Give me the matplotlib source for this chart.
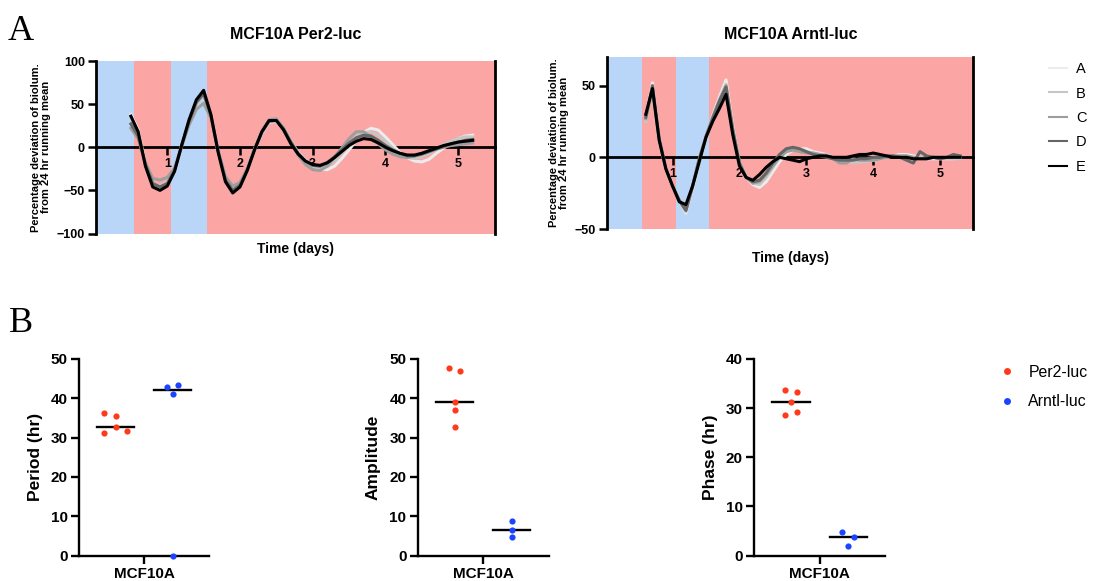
import numpy as np
import matplotlib
matplotlib.use("Agg")
import matplotlib.pyplot as plt
from matplotlib.lines import Line2D

plt.rcParams['font.family'] = ['Liberation Sans', 'DejaVu Sans']

# ---------------- data: panel A (bioluminescence traces) ----------------
per2_days = [0.5, 0.6, 0.7, 0.8, 0.9, 1.0, 1.1, 1.2, 1.3, 1.4, 1.5, 1.6,
             1.7, 1.8, 1.9, 2.0, 2.1, 2.2, 2.3, 2.4, 2.5, 2.6, 2.7, 2.8,
             2.9, 3.0, 3.1, 3.2, 3.3, 3.4, 3.5, 3.6, 3.7, 3.8, 3.9, 4.0,
             4.1, 4.2, 4.3, 4.4, 4.5, 4.6, 4.7, 4.8, 4.9, 5.0, 5.1, 5.2]
per2_A = [38, 20, -20, -44, -48, -43, -27, 2, 30, 52, 63, 37,
          -6, -38, -50, -44, -26, -3, 16, 29, 30, 21, 7, -6,
          -15, -21, -25, -26, -22, -13, -3, 8, 17, 22, 20, 12,
          3, -6, -12, -16, -17, -14, -7, -1, 5, 10, 13, 14]
per2_B = [35, 17, -20, -42, -45, -40, -26, 3, 30, 50, 60, 36,
          -5, -36, -47, -42, -25, -2, 18, 31, 32, 22, 7, -7,
          -17, -22, -24, -22, -16, -7, 3, 12, 17, 18, 14, 7,
          -1, -8, -12, -13, -11, -7, -2, 3, 7, 10, 12, 12]
per2_C = [22, 10, -18, -36, -38, -35, -24, 2, 26, 44, 51, 34,
          -4, -34, -45, -41, -25, -2, 18, 32, 33, 22, 6, -9,
          -20, -26, -27, -22, -12, -1, 10, 18, 18, 12, 4, -3,
          -8, -11, -12, -10, -7, -4, -2, 0, 2, 3, 4, 5]
per2_D = [27, 13, -20, -42, -46, -42, -27, 2, 30, 52, 62, 37,
          -5, -38, -50, -44, -26, -3, 17, 30, 31, 21, 6, -7,
          -16, -21, -22, -18, -11, -3, 5, 11, 14, 13, 8, 2,
          -3, -7, -10, -10, -8, -5, -2, 1, 4, 6, 8, 9]
per2_E = [36, 18, -22, -46, -50, -45, -28, 3, 32, 55, 66, 38,
          -6, -40, -53, -46, -27, -3, 18, 31, 31, 20, 4, -8,
          -16, -20, -21, -18, -12, -5, 2, 7, 10, 9, 5, 0,
          -4, -7, -9, -9, -7, -4, -1, 2, 4, 6, 7, 8]

arntl_days = [0.6, 0.7, 0.8, 0.9, 1.0, 1.1, 1.2, 1.3, 1.4, 1.5, 1.6, 1.7,
              1.8, 1.9, 2.0, 2.1, 2.2, 2.3, 2.4, 2.5, 2.6, 2.7, 2.8, 2.9,
              3.0, 3.1, 3.2, 3.3, 3.4, 3.5, 3.6, 3.7, 3.8, 3.9, 4.0, 4.1,
              4.2, 4.3, 4.4, 4.5, 4.6, 4.7, 4.8, 4.9, 5.0, 5.1, 5.2, 5.3]
arntl_A = [28, 52, 12, -8, -20, -30, -39, -22, -2, 14, 29, 42,
           54, 22, -4, -14, -19, -21, -17, -10, -3, 2, 5, 6,
           6, 4, 3, 2, 0, -2, -3, -3, -3, -2, -2, -1,
           0, 1, 2, 2, 1, 0, -1, -1, -1, -1, -1, 0]
arntl_B = [25, 50, 13, -8, -20, -30, -38, -21, -2, 14, 28, 40,
           51, 21, -3, -13, -18, -19, -14, -7, 0, 4, 6, 5,
           4, 3, 2, 2, 0, -2, -3, -4, -3, -3, -2, -1,
           0, 1, 1, 1, 0, 0, -1, 0, 0, -1, -1, -1]
arntl_C = [27, 48, 12, -8, -20, -30, -37, -20, -1, 15, 28, 40,
           50, 20, -4, -14, -18, -17, -12, -6, 0, 4, 5, 4,
           3, 3, 2, 1, -1, -4, -4, -1, -2, -2, -2, -1,
           0, 1, 1, 1, 0, -1, -1, 0, -1, 0, 1, 1]
arntl_D = [28, 50, 13, -8, -20, -30, -37, -20, -1, 14, 27, 39,
           49, 19, -4, -14, -17, -16, -11, -4, 2, 6, 7, 6,
           4, 2, 1, 0, -1, -2, -2, -2, -1, -1, 0, 0,
           1, 1, 0, -2, -4, 4, 1, 0, -1, 0, 2, 1]
arntl_E = [30, 48, 12, -8, -20, -31, -33, -20, -3, 14, 25, 34,
           44, 16, -6, -14, -16, -12, -7, -3, 0, -1, -2, -3,
           -1, 0, 1, 1, 0, 0, 0, 1, 2, 2, 3, 2,
           1, 0, 0, 0, -1, -1, -1, 0, 0, 0, 0, 0]

series_names = ['A', 'B', 'C', 'D', 'E']
per2_traces = [per2_A, per2_B, per2_C, per2_D, per2_E]
arntl_traces = [arntl_A, arntl_B, arntl_C, arntl_D, arntl_E]

# light schedule (days): blue = one condition, pink = the other
light_starts = [0.0, 0.54, 1.05, 1.54]
light_ends = [0.54, 1.05, 1.54, 5.5]
light_kind = ['blue', 'pink', 'blue', 'pink']

# ---------------- data: panel B (rhythm parameters) ----------------
per2_period = [36.3, 35.5, 32.6, 31.2, 31.7]
arntl_period = [42.95, 43.4, 41.2, 0.0]
per2_amp = [47.6, 47.0, 39.0, 36.9, 32.6]
arntl_amp = [8.7, 6.6, 4.8]
per2_phase = [33.7, 33.3, 31.2, 28.5, 29.2]
arntl_phase = [4.7, 3.7, 2.0]

# ---------------- styles ----------------
trace_colors = ['#ececec', '#c6c6c6', '#9e9e9e', '#666666', '#000000']
bg_colors = {'blue': '#b9d5f8', 'pink': '#fca5a5'}
red = '#ff3a1c'
blue = '#1c44ff'

W, H = 1097, 581
fig = plt.figure(figsize=(W / 100, H / 100), dpi=100)


def px_axes(left, top, right, bottom):
    return fig.add_axes([left / W, 1 - bottom / H, (right - left) / W, (bottom - top) / H])


def trace_panel(ax, days, traces, title, ylim, yticks, title_pad, xlab_y):
    for s, e, k in zip(light_starts, light_ends, light_kind):
        ax.axvspan(s, e, color=bg_colors[k], lw=0, zorder=0)
    for vals, c, name in zip(traces, trace_colors, series_names):
        ax.plot(days, vals, color=c, lw=2.2, zorder=3, label=name)
    ax.set_xlim(0.02, 5.5)
    ax.set_ylim(*ylim)
    ax.set_yticks(yticks)
    ax.set_xticks([1, 2, 3, 4, 5])
    ax.spines['bottom'].set_position(('data', 0))
    ax.spines['top'].set_visible(False)
    for sp in ['left', 'right', 'bottom']:
        ax.spines[sp].set_linewidth(2)
        ax.spines[sp].set_zorder(2.6)
    ax.tick_params(width=1.8, length=6, labelsize=9, pad=2)
    for lab in ax.get_xticklabels() + ax.get_yticklabels():
        lab.set_fontweight('bold')
    ax.set_ylabel("Percentage deviation of biolum.\nfrom 24 hr running mean",
                  fontsize=8, fontweight='bold', linespacing=1.0, labelpad=4)
    ax.set_title(title, fontsize=11.5, fontweight='bold', pad=title_pad)
    ax.text(0.5, xlab_y, "Time (days)", transform=ax.transAxes, ha='center',
            va='center', fontsize=10, fontweight='bold')


axA1 = px_axes(96, 61, 494.5, 233.5)
trace_panel(axA1, per2_days, per2_traces, "MCF10A Per2-luc", (-100, 100),
            [-100, -50, 0, 50, 100], 16, -0.09)
axA2 = px_axes(607, 57, 973.5, 229)
trace_panel(axA2, arntl_days, arntl_traces, "MCF10A Arntl-luc", (-50, 70),
            [-50, 0, 50], 13, -0.17)

legA = [Line2D([], [], color=c, lw=1.5) for c in trace_colors]
fig.legend(legA, series_names, loc='upper left', bbox_to_anchor=(1049 / W, 1 - 62 / H),
           frameon=False, fontsize=10.5, handlelength=1.25, handletextpad=0.6,
           labelspacing=0.72, borderpad=0, borderaxespad=0)


def dot_panel(ax, per2_vals, arntl_vals, ylab, ymax, red_dx, blue_dx):
    groups = [(per2_vals, red, -0.435, red_dx), (arntl_vals, blue, 0.44, blue_dx)]
    for vals, col, centre, dx in groups:
        xs = [centre + d for d in dx]
        ax.scatter(xs, vals, s=20, color=col, zorder=3, clip_on=False, linewidths=0)
        med = np.median(vals)
        ax.plot([centre - 0.285, centre + 0.285], [med, med], color='black', lw=1.7, zorder=2)
    ax.set_xlim(-1, 1)
    ax.set_ylim(0, ymax)
    ax.set_yticks(np.arange(0, ymax + 1, 10))
    ax.set_xticks([0])
    ax.set_xticklabels(['MCF10A'])
    for sp in ['top', 'right']:
        ax.spines[sp].set_visible(False)
    for sp in ['left', 'bottom']:
        ax.spines[sp].set_linewidth(1.7)
    ax.tick_params(width=1.7, length=6, labelsize=11, pad=2)
    for lab in ax.get_xticklabels() + ax.get_yticklabels():
        lab.set_fontweight('bold')
    ax.set_ylabel(ylab, fontsize=12.5, fontweight='bold', labelpad=6)


# jitter offsets for the dots (layout only)
axB1 = px_axes(79, 359, 209, 555.5)
dot_panel(axB1, per2_period, arntl_period, "Period (hr)", 50,
          [-0.18, 0.0, 0.0, -0.18, 0.18], [-0.09, 0.09, 0.0, 0.0])
axB2 = px_axes(417.5, 359, 548.5, 555.5)
dot_panel(axB2, per2_amp, arntl_amp, "Amplitude", 50,
          [-0.09, 0.09, 0.0, 0.0, 0.0], [0.0, 0.0, 0.0])
axB3 = px_axes(754, 359, 885, 555.5)
dot_panel(axB3, per2_phase, arntl_phase, "Phase (hr)", 40,
          [-0.09, 0.09, 0.0, -0.09, 0.09], [-0.09, 0.09, 0.0])

legB = [Line2D([], [], marker='o', ls='', color=red, ms=5, mew=0),
        Line2D([], [], marker='o', ls='', color=blue, ms=5, mew=0)]
fig.legend(legB, ['Per2-luc', 'Arntl-luc'], loc='upper left',
           bbox_to_anchor=(999 / W, 1 - 365 / H), frameon=False, fontsize=11.4,
           handlelength=1.0, handletextpad=0.85, labelspacing=0.9,
           borderpad=0, borderaxespad=0)

fig.text(8 / W, 1 - 40 / H, "A", fontfamily='Liberation Serif', fontsize=26, va='baseline')
fig.text(9 / W, 1 - 332 / H, "B", fontfamily='Liberation Serif', fontsize=26, va='baseline')

fig.savefig("out.png", dpi=100)
